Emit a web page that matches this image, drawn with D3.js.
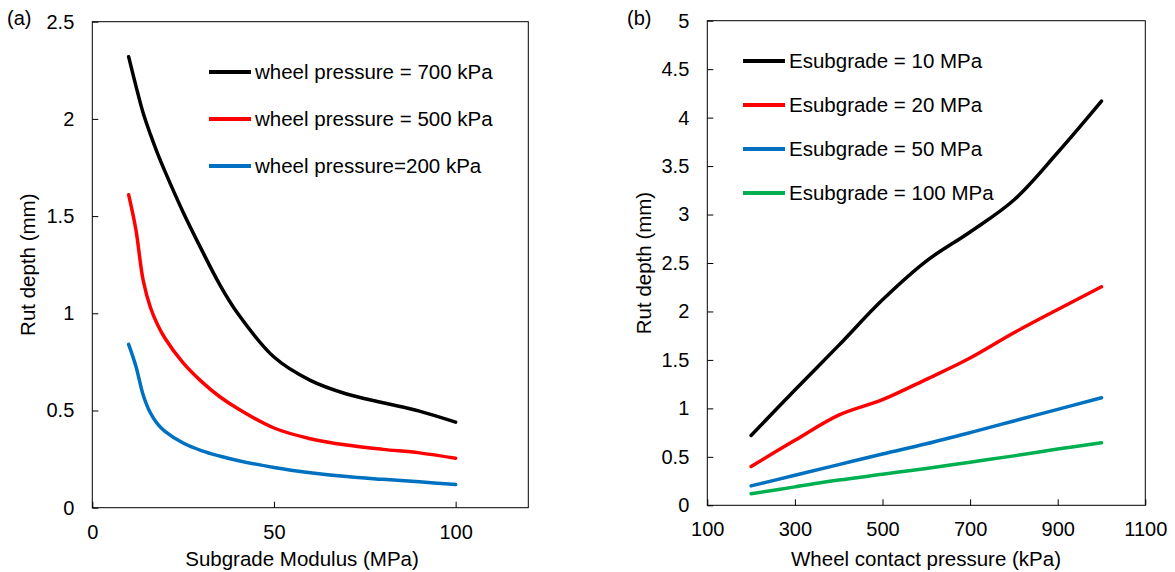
<!DOCTYPE html>
<html>
<head>
<meta charset="utf-8">
<script src="https://cdn.jsdelivr.net/npm/d3@7"></script>
<style>
  body { margin: 0; background: #fff; }
  svg { display: block; font-family: "Liberation Sans", Arial, sans-serif; }
</style>
</head>
<body>
<script>
// panel (a): rut depth vs subgrade modulus
const modulus = [10, 12, 14, 16, 18, 20, 25, 30, 35, 40, 50, 60, 70, 80, 90, 100];
const rut700 = [2.32, 2.17, 2.03, 1.92, 1.82, 1.73, 1.52, 1.33, 1.15, 1.0, 0.775, 0.655, 0.585, 0.54, 0.497, 0.44];
const rut500 = [1.61, 1.43, 1.17, 1.03, 0.94, 0.872, 0.745, 0.65, 0.572, 0.51, 0.41, 0.355, 0.322, 0.3, 0.282, 0.254];
const rut200 = [0.84, 0.728, 0.58, 0.487, 0.43, 0.393, 0.333, 0.294, 0.266, 0.243, 0.207, 0.18, 0.16, 0.146, 0.133, 0.119];
const seriesA = ["wheel pressure = 700 kPa", "wheel pressure = 500 kPa", "wheel pressure=200 kPa"];
const xTicksA = [0, 50, 100];
const yTicksA = [0, 0.5, 1, 1.5, 2, 2.5];

// panel (b): rut depth vs wheel contact pressure
const pressure = [200, 300, 400, 500, 600, 700, 800, 900, 1000];
const rutE10 = [0.72, 1.19, 1.65, 2.12, 2.52, 2.82, 3.15, 3.64, 4.17];
const rutE20 = [0.4, 0.67, 0.93, 1.09, 1.3, 1.52, 1.78, 2.02, 2.255];
const rutE50 = [0.2, 0.31, 0.42, 0.53, 0.635, 0.75, 0.87, 0.99, 1.11];
const rutE100 = [0.12, 0.19, 0.26, 0.32, 0.38, 0.445, 0.51, 0.58, 0.645];
const seriesB = ["Esubgrade = 10 MPa", "Esubgrade = 20 MPa", "Esubgrade = 50 MPa", "Esubgrade = 100 MPa"];
const xTicksB = [100, 300, 500, 700, 900, 1100];
const yTicksB = [0, 0.5, 1, 1.5, 2, 2.5, 3, 3.5, 4, 4.5, 5];

const colors = ["#000000", "#ff0000", "#0070c0", "#00b050"];
const tickSize = 20;
const textSize = 20.5;

const svg = d3.select("body").append("svg")
  .attr("width", 1175)
  .attr("height", 572);

const drawPanel = ({
  tag, tagX, left, right, top, bottom,
  xDomain, yDomain, xTicks, yTicks,
  xs, ys, names, xTitle, xTitleX, yTitleX,
  legendX, legendY,
}) => {
  const x = d3.scaleLinear(xDomain, [left, right]);
  const y = d3.scaleLinear(yDomain, [bottom, top]);
  const g = svg.append("g");

  // x-axis
  g.append("g")
    .attr("transform", `translate(0,${bottom})`)
    .call(d3.axisBottom(x).tickValues(xTicks).tickFormat(d => d)
      .tickSizeInner(-6).tickSizeOuter(0).tickPadding(17))
    .call(a => a.select(".domain").remove())
    .call(a => a.selectAll("text").attr("font-size", tickSize).attr("font-family", null).attr("fill", "#000"))
    .call(a => a.selectAll("line").attr("stroke", "#000"));

  // y-axis
  g.append("g")
    .attr("transform", `translate(${left},0)`)
    .call(d3.axisLeft(y).tickValues(yTicks).tickFormat(d => d)
      .tickSizeInner(-6).tickSizeOuter(0).tickPadding(18))
    .call(a => a.select(".domain").remove())
    .call(a => a.selectAll("text").attr("font-size", tickSize).attr("font-family", null).attr("fill", "#000"))
    .call(a => a.selectAll("line").attr("stroke", "#000"));

  // plot frame
  g.append("rect")
    .attr("x", left).attr("y", top)
    .attr("width", right - left).attr("height", bottom - top)
    .attr("fill", "none").attr("stroke", "#000").attr("stroke-width", 1);

  // smoothed curves
  const line = d3.line()
    .x((d, i) => x(xs[i]))
    .y(d => y(d))
    .curve(d3.curveCatmullRom.alpha(0.5));
  ys.forEach((s, k) => {
    g.append("path")
      .attr("d", line(s))
      .attr("fill", "none")
      .attr("stroke", colors[k])
      .attr("stroke-width", 3.5)
      .attr("stroke-linecap", "round");
  });

  // legend
  names.forEach((n, k) => {
    const ly = legendY[k];
    g.append("line")
      .attr("x1", legendX).attr("x2", legendX + 42)
      .attr("y1", ly).attr("y2", ly)
      .attr("stroke", colors[k]).attr("stroke-width", 4);
    g.append("text")
      .attr("x", legendX + 46).attr("y", ly).attr("dy", "0.35em")
      .attr("font-size", textSize)
      .text(n);
  });

  // titles
  g.append("text")
    .attr("x", xTitleX).attr("y", 566)
    .attr("text-anchor", "middle").attr("font-size", textSize)
    .text(xTitle);
  g.append("text")
    .attr("transform", `translate(${yTitleX},${(top + bottom) / 2}) rotate(-90)`)
    .attr("text-anchor", "middle").attr("dy", "0.35em").attr("font-size", textSize)
    .text("Rut depth (mm)");
  g.append("text")
    .attr("x", tagX).attr("y", 25).attr("font-size", tickSize)
    .text(tag);
};

drawPanel({
  tag: "(a)", tagX: 7,
  left: 92.3, right: 528.3, top: 21.7, bottom: 507.7,
  xDomain: [0, 120], yDomain: [0, 2.5],
  xTicks: xTicksA, yTicks: yTicksA,
  xs: modulus, ys: [rut700, rut500, rut200], names: seriesA,
  xTitle: "Subgrade Modulus (MPa)", xTitleX: 302, yTitleX: 28,
  legendX: 209, legendY: [72, 119, 166],
});

drawPanel({
  tag: "(b)", tagX: 627,
  left: 707.3, right: 1145.3, top: 20.7, bottom: 505.3,
  xDomain: [100, 1100], yDomain: [0, 5],
  xTicks: xTicksB, yTicks: yTicksB,
  xs: pressure, ys: [rutE10, rutE20, rutE50, rutE100], names: seriesB,
  xTitle: "Wheel contact pressure (kPa)", xTitleX: 926, yTitleX: 644,
  legendX: 743, legendY: [61, 105, 149, 193],
});
</script>
</body>
</html>
